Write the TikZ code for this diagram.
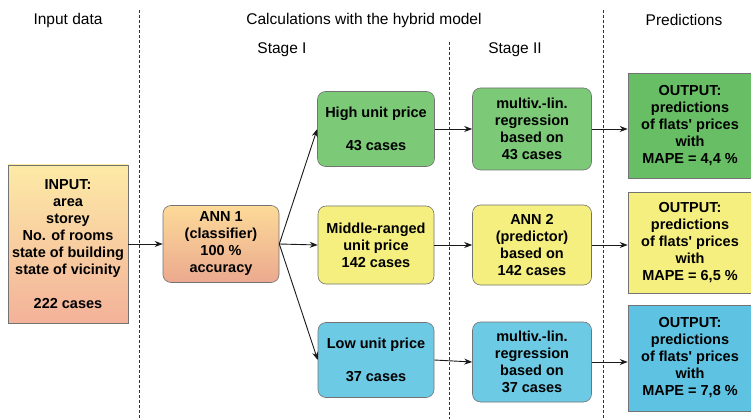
\documentclass[tikz,border=0pt]{standalone}
\usepackage{fontspec}
\setmainfont{Liberation Sans}
\usetikzlibrary{arrows.meta}
\definecolor{grn}{HTML}{7CC977}
\definecolor{grnout}{HTML}{67BE64}
\definecolor{ylw}{HTML}{F4EF7E}
\definecolor{blu}{HTML}{6DCAE4}
\definecolor{bluout}{HTML}{5EC3E2}
\newcommand{\flats}{of flats\textquotesingle{} prices}
\begin{document}
\begin{tikzpicture}[x=1pt,y=-1pt,
    box/.style={draw=black!55, line width=.6pt, align=center, inner sep=0pt,
        font=\fontsize{14.5}{17}\selectfont\bfseries},
    rbox/.style={box, rounded corners=8pt},
    head/.style={font=\fontsize{15.5}{18}\selectfont},
    divider/.style={dash pattern=on 3pt off 2pt, line width=.7pt, black!80},
    arr/.style={-{Stealth[length=8pt,width=6pt]}, line width=.9pt, black!90}]
    \useasboundingbox (0,0) rectangle (751,419);

    % headings
    \node[head] (hinput) at (68,20) {Input data};
    \node[head] (hcalc) at (364,20) {Calculations with the hybrid model};
    \node[head] (hpred) at (684,20) {Predictions};
    \node[head] (hstage1) at (282,50) {Stage I};
    \node[head] (hstage2) at (515,50) {Stage II};

    % dividers
    \draw[divider] (139,10) -- (139,419);
    \draw[divider] (449,42) -- (449,419);
    \draw[divider] (603,10) -- (603,419);

    % input
    \node[box, top color={rgb,255:red,253;green,234;blue,166}, bottom color={rgb,255:red,243;green,178;blue,154},
        minimum width=120pt, minimum height=158pt] (inp) at (68,244)
        {INPUT:\\area\\storey\\No. of rooms\\state of building\\state of vicinity\\[17pt]222 cases};

    % stage I
    \node[rbox, top color={rgb,255:red,252;green,218;blue,152}, bottom color={rgb,255:red,235;green,169;blue,143},
        minimum width=116pt, minimum height=77pt] (ann1) at (221,244)
        {ANN 1\\(classifier)\\100 \%\\accuracy};
    \node[rbox, fill=grn, minimum width=117pt, minimum height=75pt] (high) at (376,129)
        {High unit price\\[16pt]43 cases};
    \node[rbox, fill=ylw, minimum width=116pt, minimum height=78pt] (mid) at (376,245)
        {Middle-ranged\\unit price\\142 cases};
    \node[rbox, fill=blu, minimum width=116pt, minimum height=75pt] (low) at (376,360)
        {Low unit price\\[16pt]37 cases};

    % stage II
    \node[rbox, fill=grn, minimum width=119pt, minimum height=82pt] (reg1) at (532,129)
        {multiv.-lin.\\regression\\based on\\43 cases};
    \node[rbox, fill=ylw, minimum width=119pt, minimum height=80pt] (ann2) at (532,245)
        {ANN 2\\(predictor)\\based on\\142 cases};
    \node[rbox, fill=blu, minimum width=119pt, minimum height=80pt] (reg3) at (532,362)
        {multiv.-lin.\\regression\\based on\\37 cases};

    % predictions
    \node[box, fill=grnout, minimum width=124pt, minimum height=105pt] (out1) at (690,126)
        {OUTPUT:\\predictions\\\flats\\with\\MAPE = 4,4 \%};
    \node[box, fill=ylw, minimum width=124pt, minimum height=101pt] (out2) at (690,243)
        {OUTPUT:\\predictions\\\flats\\with\\MAPE = 6,5 \%};
    \node[box, fill=bluout, minimum width=124pt, minimum height=106pt] (out3) at (690,358)
        {OUTPUT:\\predictions\\\flats\\with\\MAPE = 7,8 \%};

    % arrows
    \draw[arr] (inp.east) -- (ann1.west);
    \draw[arr] (ann1.east) -- (high.west);
    \draw[arr] (ann1.east) -- (mid.west);
    \draw[arr] (ann1.east) -- (low.west);
    \draw[arr] (high.east) -- (reg1.west);
    \draw[arr] (mid.east) -- (ann2.west);
    \draw[arr] (low.east) -- (reg3.west);
    \draw[arr] (reg1.east) -- (reg1.east -| out1.west);
    \draw[arr] (ann2.east) -- (ann2.east -| out2.west);
    \draw[arr] (reg3.east) -- (reg3.east -| out3.west);
\end{tikzpicture}
\end{document}
